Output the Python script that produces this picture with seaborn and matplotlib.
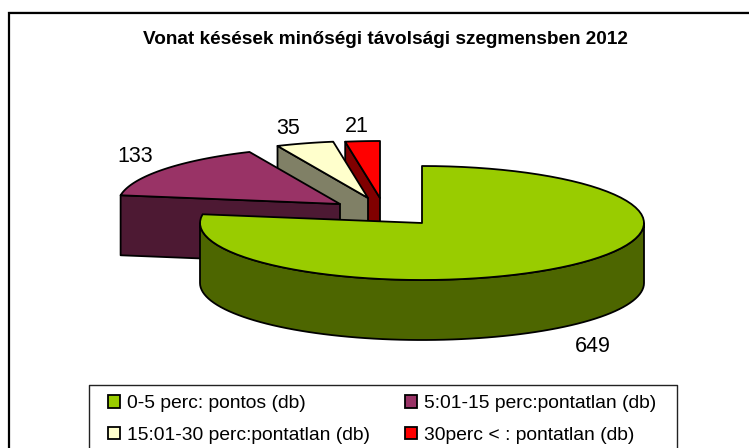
"""Vonat kesesek - exploded 3D-style pie, drawn on a pixel-sized axes."""
import numpy as np
import matplotlib
matplotlib.use("Agg")
import matplotlib.pyplot as plt
from matplotlib.patches import Patch
import seaborn as sns

# -- Data ----------------------------------------------------------------------
categories = ["0-5 perc: pontos (db)", "5:01-15 perc:pontatlan (db)",
              "15:01-30 perc:pontatlan (db)", "30perc < : pontatlan (db)"]
values = [649, 133, 35, 21]
title = "Vonat késések minőségi távolsági szegmensben 2012"

top_colors = ["#99CC00", "#993366", "#FFFFCC", "#FF0000"]
side_colors = ["#4D6600", "#4D1933", "#808066", "#800000"]

# -- Pie geometry (pixels) -----------------------------------------------------
RX, RY, DEPTH = 222, 57, 60
apex = [(422, 223), (340, 204), (368, 198), (380, 198)]
label_pos = [(593, 347), (135, 157), (288, 129), (357, 126)]

sns.set_theme(style="white")
plt.rcParams["font.family"] = ["Liberation Sans", "DejaVu Sans"]
palette = sns.color_palette(top_colors)
side_palette = sns.color_palette(side_colors)

fig = plt.figure(figsize=(7.49, 4.48), dpi=100)
ax = fig.add_axes([0, 0, 1, 1])
ax.set_xlim(0, 749)
ax.set_ylim(448, 0)
ax.axis("off")

# chart frame, cut off by the image on the right and at the bottom
ax.plot([8, 749], [12, 12], color="#b0b0b0", lw=1, zorder=1)
ax.plot([9, 9, 749], [448, 13.5, 13.5], color="black", lw=1.6, zorder=1,
        solid_joinstyle="miter")


def rim(cx, cy, a0, a1, n=80):
    t = np.radians(np.linspace(a0, a1, n))
    return cx + RX * np.cos(t), cy - RY * np.sin(t)


# slices run clockwise from 12 o'clock
sweep = np.array(values) / sum(values) * 360
ends = 90 - np.cumsum(sweep)
starts = ends + sweep
style = dict(ec="black", lw=1.3, joinstyle="round")

# back to front: smallest slice first, the big green one on top
for i in [3, 2, 1, 0]:
    cx, cy = apex[i]
    a0, a1 = starts[i], ends[i]
    if i == 0:
        # outer wall, only the front half of the ellipse shows
        x, y = rim(cx, cy, -180, 0)
        ax.fill(np.r_[x, x[::-1]], np.r_[y, y[::-1] + DEPTH],
                color=side_palette[i], zorder=2 + (3 - i), **style)
    else:
        # cut face along the slice's counter-clockwise edge
        ex, ey = rim(cx, cy, a0, a0, n=1)
        ax.fill(np.r_[ex, cx, cx, ex], np.r_[ey, cy, cy + DEPTH, ey + DEPTH],
                color=side_palette[i], zorder=2 + (3 - i), **style)
    x, y = rim(cx, cy, a0, a1)
    ax.fill(np.r_[cx, x], np.r_[cy, y], color=palette[i], zorder=2 + (3 - i), **style)

for v, (lx, ly) in zip(values, label_pos):
    ax.text(lx, ly, str(v), ha="center", va="center", fontsize=15.5,
            color="black", zorder=10)

ax.text(385, 39.5, title, ha="center", va="center", fontsize=13.7,
        fontweight="bold", color="black", zorder=10)

# legend box runs past the bottom of the image
ax.plot([89, 89, 677, 677], [449, 385, 385, 449], color="#222222", lw=1, zorder=9)
handles = [Patch(facecolor=c, edgecolor="black", lw=1.3) for c in palette]
order = [0, 2, 1, 3]
leg = ax.legend([handles[k] for k in order], [categories[k] for k in order],
                ncol=2, loc="upper left", bbox_to_anchor=(108, 395),
                bbox_transform=ax.transData, borderaxespad=0, fontsize=13.9,
                frameon=False, handlelength=0.62, handleheight=0.62,
                handletextpad=0.36, labelspacing=0.75, borderpad=0,
                columnspacing=1.8, labelcolor="black")
leg.set_zorder(10)

plt.savefig("out.png", dpi=100)
plt.close()
